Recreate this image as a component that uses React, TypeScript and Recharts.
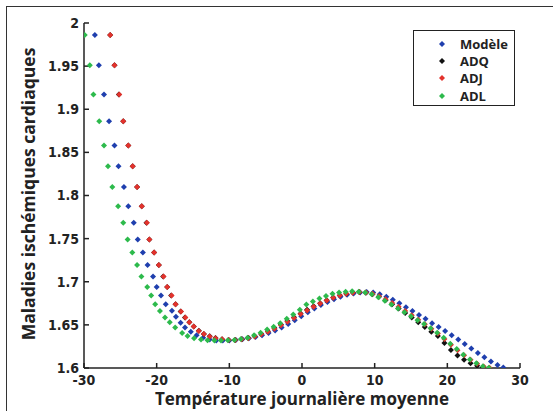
import { Label, Scatter, ScatterChart, XAxis, YAxis } from "recharts";

const xTicks = [-30, -20, -10, 0, 10, 20, 30];
const yTicks = [1.6, 1.65, 1.7, 1.75, 1.8, 1.85, 1.9, 1.95, 2];

// [température, risque relatif]
const modele: [number, number][] = [
  [-28.5, 1.986], [-27.95, 1.951], [-27.25, 1.917], [-26.55, 1.886], [-25.8, 1.858], [-25.25, 1.834],
  [-24.5, 1.81], [-23.9, 1.7875], [-23.15, 1.7685], [-22.6, 1.749], [-21.9, 1.734], [-21.25, 1.7195],
  [-20.5, 1.706], [-20.0, 1.694], [-19.4, 1.684], [-18.75, 1.674], [-17.9, 1.6665], [-17.35, 1.6595],
  [-16.7, 1.6525], [-16.1, 1.647], [-15.3, 1.642], [-14.5, 1.638], [-13.6, 1.635], [-12.7, 1.633],
  [-11.8, 1.632], [-10.9, 1.6318], [-10.0, 1.632], [-9.1, 1.6325], [-8.2, 1.6333], [-7.3, 1.6345],
  [-6.4, 1.636], [-5.5, 1.638], [-4.6, 1.6405], [-3.7, 1.6435], [-2.8, 1.647], [-1.9, 1.651],
  [-1.0, 1.6555], [-0.1, 1.66], [0.8, 1.6645], [1.7, 1.669], [2.6, 1.673], [3.5, 1.6765],
  [4.4, 1.6798], [5.3, 1.6825], [6.2, 1.6848], [7.1, 1.6865], [8.0, 1.6875], [8.9, 1.688],
  [9.8, 1.6875], [10.7, 1.6855], [11.6, 1.6825], [12.5, 1.679], [13.4, 1.675], [14.3, 1.6705],
  [15.2, 1.666], [16.1, 1.6615], [17.0, 1.657], [17.9, 1.652], [18.8, 1.6475], [19.7, 1.643],
  [20.6, 1.638], [21.5, 1.633], [22.4, 1.6278], [23.3, 1.6225], [24.2, 1.6175], [25.1, 1.6125],
  [26.0, 1.6075], [26.9, 1.6035], [27.7, 1.6005],
];

const adq: [number, number][] = [
  [-26.4, 1.986], [-25.8, 1.951], [-25.2, 1.917], [-24.6, 1.886], [-23.9, 1.858], [-23.3, 1.834],
  [-22.7, 1.81], [-22.05, 1.7875], [-21.4, 1.7685], [-21.0, 1.749], [-20.35, 1.734], [-19.7, 1.7195],
  [-19.1, 1.706], [-18.55, 1.694], [-18.0, 1.684], [-17.4, 1.674], [-16.7, 1.6655], [-16.1, 1.6585],
  [-15.5, 1.653], [-14.9, 1.648], [-14.2, 1.6432], [-13.5, 1.6395], [-12.7, 1.6367], [-11.9, 1.6347],
  [-11.0, 1.6333], [-10.1, 1.6326], [-9.2, 1.6326], [-8.3, 1.6333], [-7.4, 1.6347], [-6.5, 1.6368],
  [-5.6, 1.6395], [-4.7, 1.6427], [-3.8, 1.6463], [-2.9, 1.6503], [-2.0, 1.6545], [-1.1, 1.6588],
  [-0.2, 1.6632], [0.7, 1.6675], [1.6, 1.6715], [2.5, 1.6752], [3.4, 1.6786], [4.3, 1.6817],
  [5.2, 1.6843], [6.1, 1.6862], [7.0, 1.6875], [7.9, 1.688], [8.8, 1.6873], [9.7, 1.6855],
  [10.6, 1.6825], [11.5, 1.6785], [12.4, 1.674], [13.3, 1.669], [14.2, 1.6638], [15.1, 1.6585],
  [16.0, 1.653], [16.9, 1.6475], [17.8, 1.642], [18.7, 1.637], [19.6, 1.629], [20.5, 1.621],
  [21.4, 1.6145], [22.3, 1.6095], [23.2, 1.6055], [24.1, 1.6025], [24.9, 1.6005],
];

const adj: [number, number][] = [
  [-26.4, 1.986], [-25.8, 1.951], [-25.15, 1.917], [-24.6, 1.886], [-23.9, 1.858], [-23.3, 1.834],
  [-22.7, 1.81], [-22.05, 1.7875], [-21.35, 1.7685], [-21.0, 1.749], [-20.35, 1.734], [-19.7, 1.7195],
  [-19.05, 1.706], [-18.55, 1.694], [-17.95, 1.684], [-17.4, 1.674], [-16.65, 1.6655], [-16.05, 1.6585],
  [-15.5, 1.653], [-14.9, 1.648], [-14.2, 1.643], [-13.5, 1.6395], [-12.7, 1.6365], [-11.9, 1.6345],
  [-11.0, 1.6332], [-10.1, 1.6325], [-9.2, 1.6325], [-8.3, 1.6332], [-7.4, 1.6345], [-6.5, 1.6365],
  [-5.6, 1.639], [-4.7, 1.642], [-3.8, 1.6455], [-2.9, 1.6495], [-2.0, 1.6537], [-1.1, 1.658],
  [-0.2, 1.6625], [0.7, 1.6668], [1.6, 1.671], [2.5, 1.6748], [3.4, 1.6783], [4.3, 1.6815],
  [5.2, 1.684], [6.1, 1.686], [7.0, 1.6873], [7.9, 1.688], [8.8, 1.6875], [9.7, 1.686],
  [10.6, 1.6833], [11.5, 1.6797], [12.4, 1.6755], [13.3, 1.671], [14.2, 1.6662], [15.1, 1.6612],
  [16.0, 1.656], [16.9, 1.6508], [17.8, 1.6455], [18.7, 1.64], [19.6, 1.6335], [20.5, 1.627],
  [21.4, 1.6205], [22.3, 1.6148], [23.2, 1.6095], [24.1, 1.605], [25.0, 1.6018], [25.8, 1.6002],
];

const adl: [number, number][] = [
  [-29.9, 1.986], [-29.2, 1.951], [-28.7, 1.917], [-27.9, 1.886], [-27.25, 1.858], [-26.7, 1.834],
  [-26.1, 1.81], [-25.3, 1.7875], [-24.6, 1.7685], [-24.0, 1.749], [-23.35, 1.734], [-22.7, 1.7195],
  [-22.1, 1.706], [-21.3, 1.694], [-20.75, 1.684], [-20.2, 1.674], [-19.55, 1.666], [-18.85, 1.6585],
  [-18.2, 1.653], [-17.45, 1.647], [-16.5, 1.6405], [-15.75, 1.637], [-14.85, 1.6345], [-13.9, 1.633],
  [-13.0, 1.6323], [-12.05, 1.632], [-11.15, 1.632], [-10.2, 1.6322], [-9.3, 1.6325], [-8.4, 1.6335],
  [-7.5, 1.635], [-6.6, 1.638], [-5.7, 1.641], [-4.8, 1.6445], [-3.9, 1.6478], [-3.0, 1.652],
  [-2.1, 1.657], [-1.2, 1.662], [-0.3, 1.6675], [0.6, 1.6735], [1.5, 1.677], [2.4, 1.6805],
  [3.3, 1.6835], [4.2, 1.686], [5.1, 1.6875], [6.0, 1.6885], [6.9, 1.689], [7.8, 1.6885],
  [8.7, 1.6875], [9.6, 1.6855], [10.5, 1.682], [11.4, 1.678], [12.3, 1.6735], [13.2, 1.669],
  [14.1, 1.6645], [15.0, 1.66], [15.9, 1.6555], [16.8, 1.651], [17.7, 1.646], [18.6, 1.641],
  [19.5, 1.635], [20.4, 1.628], [21.3, 1.622], [22.2, 1.6155], [23.1, 1.61], [24.0, 1.6055],
  [24.9, 1.602], [25.7, 1.6002],
];

const series = [
  { name: "Modèle", color: "#1f3fae", points: modele },
  { name: "ADQ", color: "#111111", points: adq },
  { name: "ADJ", color: "#e3322c", points: adj },
  { name: "ADL", color: "#2dba4c", points: adl },
];

const AXIS = "#222222";
const TICK_FONT = "'Liberation Sans Narrow', 'DejaVu Sans Condensed', sans-serif";
const TITLE_FONT = "'Open Sans', 'DejaVu Sans', sans-serif";

function Marker(props: any) {
  const { cx, cy, fill } = props;
  if (cx == null || cy == null) return null;
  const r = 3;
  return <path d={`M${cx},${cy - r}L${cx + r},${cy}L${cx},${cy + r}L${cx - r},${cy}Z`} fill={fill} />;
}

function LegendBox() {
  return (
    <div
      style={{
        position: "absolute",
        left: 413,
        top: 30,
        width: 102,
        height: 76,
        border: `1.5px solid ${AXIS}`,
        background: "#ffffff",
        fontFamily: TITLE_FONT,
        fontWeight: 700,
        fontSize: 13,
        color: "#222",
        paddingTop: 4,
        boxSizing: "border-box",
      }}
    >
      {series.map((s) => (
        <div key={s.name} style={{ display: "flex", alignItems: "center", height: 17.4 }}>
          <svg width={46} height={10}>
            <path d="M28,2L31,5L28,8L25,5Z" fill={s.color} />
          </svg>
          <span>{s.name}</span>
        </div>
      ))}
    </div>
  );
}

function XTitle(props: any) {
  const vb = props.viewBox || {};
  return (
    <text
      x={vb.x + vb.width / 2}
      y={405}
      textAnchor="middle"
      fontFamily={TITLE_FONT}
      fontWeight={700}
      fontSize={17}
      fill="#222"
    >
      Température journalière moyenne
    </text>
  );
}

function YTitle() {
  return (
    <text
      x={0}
      y={0}
      transform="translate(35,194) rotate(-90)"
      textAnchor="middle"
      fontFamily={TITLE_FONT}
      fontWeight={700}
      fontSize={17.5}
      fill="#222"
    >
      Maladies ischémiques cardiaques
    </text>
  );
}

export default function App() {
  return (
    <div style={{ position: "absolute", left: 0, top: 0, width: 553, height: 411, background: "#ffffff" }}>
      <div
        style={{
          position: "absolute",
          left: 6,
          top: 6,
          right: 0,
          bottom: 0,
          borderTop: "1.5px solid #333",
          borderLeft: "1.5px solid #333",
        }}
      />
      <ScatterChart width={553} height={411} margin={{ top: 23, right: 33, bottom: 0, left: 0 }}>
        <XAxis
          type="number"
          dataKey="x"
          domain={[-30, 30]}
          ticks={xTicks}
          allowDataOverflow
          height={43}
          stroke={AXIS}
          strokeWidth={1.5}
          tickSize={-5}
          tickMargin={12}
          tick={{ fill: "#222", fontSize: 14, fontWeight: 700, fontFamily: TICK_FONT }}
        >
          <Label content={XTitle} />
        </XAxis>
        <YAxis
          type="number"
          dataKey="y"
          domain={[1.6, 2]}
          ticks={yTicks}
          allowDataOverflow
          width={84}
          stroke={AXIS}
          strokeWidth={1.5}
          tickSize={-5}
          tickMargin={10}
          tick={{ fill: "#222", fontSize: 14, fontWeight: 700, fontFamily: TICK_FONT }}
        >
          <Label content={YTitle} />
        </YAxis>
        {series.map((s) => (
          <Scatter
            key={s.name}
            name={s.name}
            data={s.points.map(([x, y]) => ({ x, y }))}
            fill={s.color}
            shape={Marker}
            isAnimationActive={false}
          />
        ))}
      </ScatterChart>
      <LegendBox />
    </div>
  );
}
